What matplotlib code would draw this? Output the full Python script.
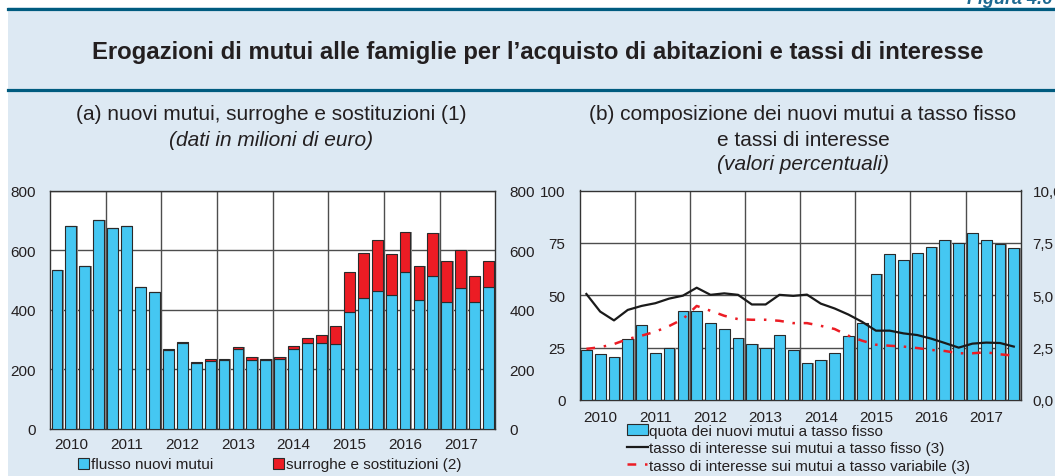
import matplotlib
matplotlib.use('Agg')
import matplotlib.pyplot as plt
import numpy as np
from matplotlib.patches import Rectangle, Patch
from matplotlib.lines import Line2D
from matplotlib.ticker import FuncFormatter

# ---------------- data ----------------
years = ['2010', '2011', '2012', '2013', '2014', '2015', '2016', '2017']

# panel (a): quarterly, millions of euro
flusso_nuovi_mutui = [532, 682, 545, 700, 674, 681, 476, 459,
                      263, 287, 220, 227, 229, 266, 232, 230,
                      233, 269, 287, 286, 285, 391, 438, 461,
                      450, 525, 431, 512, 425, 471, 425, 475]
surroghe_sostituzioni = [0, 0, 0, 0, 0, 0, 0, 0,
                         6, 5, 4, 6, 6, 8, 7, 5,
                         7, 9, 16, 30, 60, 134, 153, 172,
                         137, 135, 114, 145, 138, 128, 88, 90]

# panel (b): percentages
quota_tasso_fisso = [24.0, 21.8, 20.3, 29.3, 35.9, 22.3, 25.0, 42.6,
                     42.7, 36.9, 34.0, 29.7, 26.9, 24.8, 30.9, 23.7,
                     17.6, 19.3, 22.3, 30.4, 36.6, 60.1, 69.9, 66.6,
                     70.4, 73.1, 76.3, 74.8, 79.7, 76.3, 74.5, 72.6]
tasso_fisso = [5.06, 4.22, 3.80, 4.30, 4.49, 4.62, 4.84, 4.98,
               5.36, 5.02, 5.09, 5.02, 4.56, 4.56, 5.02, 4.97,
               5.03, 4.60, 4.37, 4.08, 3.73, 3.31, 3.31, 3.18,
               3.10, 2.93, 2.72, 2.50, 2.69, 2.74, 2.72, 2.55]
tasso_variabile = [2.44, 2.52, 2.67, 2.91, 3.07, 3.26, 3.53, 3.86,
                   4.49, 4.26, 4.02, 3.86, 3.83, 3.83, 3.78, 3.67,
                   3.67, 3.54, 3.39, 3.07, 2.83, 2.64, 2.59, 2.55,
                   2.48, 2.39, 2.34, 2.23, 2.23, 2.28, 2.18, 2.12]

# ---------------- style ----------------
plt.rcParams['font.family'] = ['Liberation Sans', 'DejaVu Sans']
BG = '#dde9f3'
TEAL = '#005b7f'
BLUE = '#45c7f2'
RED = '#ec1c24'
EDGE = '#2a2a2a'
SHADOW = '#8c8c8c'
GRID = '#4d4d4d'
TXT = '#231f20'

W, H = 1055, 477
fig = plt.figure(figsize=(W / 100, H / 100), dpi=100)
fig.patch.set_facecolor('white')


def fx(px):
    return px / W


def fy(py):
    return 1 - py / H


def pt(px):
    return px * 72 / 100


fig.patches.append(Rectangle((fx(8), 0), 1 - fx(8), fy(8), transform=fig.transFigure,
                             facecolor=BG, edgecolor='none', zorder=-10))
for yy in (10, 91):
    fig.add_artist(Line2D([fx(8), 1], [fy(yy), fy(yy)], color=TEAL, lw=2.3,
                          transform=fig.transFigure))

fig.text(fx(967), fy(3.5), 'Figura 4.6', fontsize=13, fontweight='bold', style='italic',
         color='#1d6a92', ha='left', va='baseline')

renderer = fig.canvas.get_renderer()


def fit(t, target_px):
    bb = t.get_window_extent(renderer=renderer)
    t.set_fontsize(t.get_fontsize() * target_px / bb.width)


title = fig.text(fx(537.5), fy(52), 'Erogazioni di mutui alle famiglie per l\u2019acquisto di abitazioni e tassi di interesse',
                 fontsize=14, fontweight='bold', color=TXT, ha='center', va='center')
fit(title, 895)

sa = fig.text(fx(271), fy(115), '(a) nuovi mutui, surroghe e sostituzioni (1)', fontsize=15,
              color=TXT, ha='center', va='center')
fit(sa, 392)
fs = sa.get_fontsize()
fig.text(fx(271.5), fy(140), '(dati in milioni di euro)', fontsize=fs, style='italic',
         color=TXT, ha='center', va='center')
fig.text(fx(803), fy(115), '(b) composizione dei nuovi mutui a tasso fisso', fontsize=fs,
         color=TXT, ha='center', va='center')
fig.text(fx(803), fy(140), 'e tassi di interesse', fontsize=fs,
         color=TXT, ha='center', va='center')
fig.text(fx(803), fy(165), '(valori percentuali)', fontsize=fs, style='italic',
         color=TXT, ha='center', va='center')

x = np.arange(len(flusso_nuovi_mutui))
bw = 0.78
FS = 11


def setup_x(ax, pad):
    ax.set_xlim(-0.5, len(x) - 0.5)
    ax.set_xticks(np.arange(3.5, len(x) - 1, 4))
    ax.set_xticklabels([])
    ax.set_xticks(np.arange(1, len(x), 4), minor=True)
    ax.set_xticklabels(years, minor=True)
    ax.tick_params(axis='x', which='both', length=0, pad=pad, labelsize=FS, colors=TXT)
    ax.grid(True, which='major', axis='both', color=GRID, lw=1.0)
    ax.set_axisbelow(True)
    ax.set_facecolor('white')
    for s in ax.spines.values():
        s.set_color('#333333')
        s.set_linewidth(1.0)


# ---------------- panel (a) ----------------
ax1 = fig.add_axes([fx(50), fy(429.5), fx(495.5 - 50), (429.5 - 191.7) / H])
fl = np.array(flusso_nuovi_mutui)
su = np.array(surroghe_sostituzioni)
ax1.bar(x + 0.1, fl + su, bw, color=SHADOW, lw=0, zorder=2)
ax1.bar(x, fl, bw, color=BLUE, edgecolor=EDGE, lw=0.8, zorder=3)
ax1.bar(x, su, bw, bottom=fl, color=RED, edgecolor=EDGE, lw=0.8, zorder=3)
ax1.set_ylim(0, 800)
ax1.set_yticks([0, 200, 400, 600, 800])
ax1.tick_params(axis='y', length=0, pad=pt(14), labelsize=FS, colors=TXT,
                labelleft=True, labelright=True)
setup_x(ax1, pt(8.5))

fig.legend([Patch(facecolor=BLUE, edgecolor=EDGE, lw=0.8), Patch(facecolor=RED, edgecolor=EDGE, lw=0.8)],
           ['flusso nuovi mutui', 'surroghe e sostituzioni (2)'],
           loc='center left', bbox_to_anchor=(fx(78), fy(465.5)), ncol=2, frameon=False,
           handlelength=0.7, handleheight=0.7, handletextpad=0.15, columnspacing=3.9,
           borderpad=0, borderaxespad=0, fontsize=FS, labelcolor=TXT)

# ---------------- panel (b) ----------------
ax2 = fig.add_axes([fx(579.5), fy(401), fx(1020.7 - 579.5), (401 - 191.5) / H])
ax2.bar(x + 0.1, quota_tasso_fisso, bw, color=SHADOW, lw=0, zorder=2)
ax2.bar(x, quota_tasso_fisso, bw, color=BLUE, edgecolor=EDGE, lw=0.8, zorder=3)
ax2.set_ylim(0, 100)
ax2.set_yticks([0, 25, 50, 75, 100])
ax2.tick_params(axis='y', length=0, pad=pt(14), labelsize=FS, colors=TXT)
setup_x(ax2, pt(10))

ax2r = ax2.twinx()
ax2r.plot(x, tasso_fisso, color='#1a1a1a', lw=1.6, zorder=5)
ax2r.plot(x, tasso_variabile, color=RED, lw=1.8, dashes=(3.5, 3.5, 1, 3.5), zorder=5)
ax2r.set_ylim(0, 10)
ax2r.set_yticks([0, 2.5, 5, 7.5, 10])
ax2r.yaxis.set_major_formatter(FuncFormatter(lambda v, p: ('%.1f' % v).replace('.', ',')))
ax2r.tick_params(axis='y', length=0, pad=pt(12), labelsize=FS, colors=TXT)
for s in ax2r.spines.values():
    s.set_visible(False)

fig.legend([Patch(facecolor=BLUE, edgecolor=EDGE, lw=0.8),
            Line2D([], [], color='#1a1a1a', lw=1.6),
            Line2D([], [], color=RED, lw=1.8, dashes=(3.5, 3.5, 1, 3.5))],
           ['quota dei nuovi mutui a tasso fisso',
            'tasso di interesse sui mutui a tasso fisso (3)',
            'tasso di interesse sui mutui a tasso variabile (3)'],
           loc='upper left', bbox_to_anchor=(fx(627), fy(425)), ncol=1, frameon=False,
           handlelength=1.35, handleheight=0.7, handletextpad=0.1, labelspacing=0.22,
           borderpad=0, borderaxespad=0, fontsize=FS, labelcolor=TXT)

fig.savefig('out.png', dpi=100, facecolor=fig.get_facecolor())
